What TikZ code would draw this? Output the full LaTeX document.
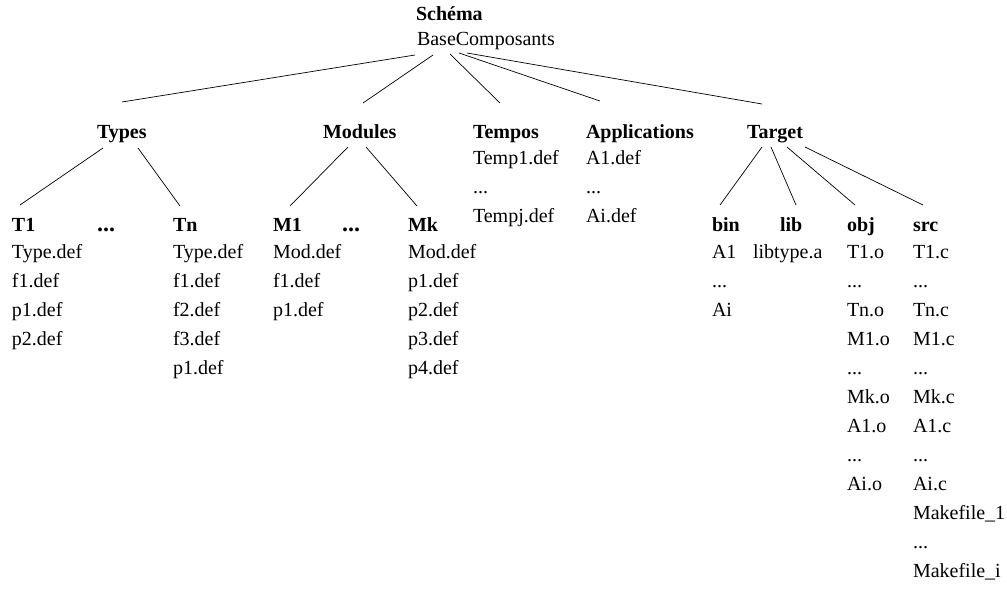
\documentclass[tikz,border=0pt]{standalone}
\usepackage{fontspec}
\setmainfont{Liberation Serif}
% an ellipsis row in a folder listing
\newcommand\threedots{...}
\begin{document}
\begin{tikzpicture}[x=1pt,y=-1pt,
  txt/.style={anchor=base west,inner sep=0pt,outer sep=0pt,font=\fontsize{20}{24}\selectfont},
  hd/.style={txt,font=\fontsize{20}{24}\selectfont\bfseries},
  gap/.style={txt,font=\fontsize{24}{24}\selectfont\bfseries},
  link/.style={draw=black,line width=0.7pt}]
\useasboundingbox (0,0) rectangle (1007,592);

% root
\node[hd]  (schema) at (416,20) {Schéma};
\node[txt] (base)   at (417,45) {BaseComposants};

% second level
\node[hd] (types)   at (97,138)  {Types};
\node[hd] (modules) at (323,138) {Modules};
\node[hd] (tempos)  at (473,138) {Tempos};
\node[hd] (apps)    at (586,138) {Applications};
\node[hd] (target)  at (747,138) {Target};

% Tempos and Applications contents
\foreach \f [count=\i from 0] in {Temp1.def,\threedots,Tempj.def}
  \node[txt] (tempos-\i) at ([shift={(0,{26+29*\i})}]tempos.base west) {\f};
\foreach \f [count=\i from 0] in {A1.def,\threedots,Ai.def}
  \node[txt] (apps-\i) at ([shift={(0,{26+29*\i})}]apps.base west) {\f};

% Types subtree
\node[hd]  (t1)    at (12,231)  {T1};
\node[gap] (tdots) at (97,231)  {\threedots};
\node[hd]  (tn)    at (173,231) {Tn};
\foreach \f [count=\i from 0] in {Type.def,f1.def,p1.def,p2.def}
  \node[txt] (t1-\i) at ([shift={(0,{27+29*\i})}]t1.base west) {\f};
\foreach \f [count=\i from 0] in {Type.def,f1.def,f2.def,f3.def,p1.def}
  \node[txt] (tn-\i) at ([shift={(0,{27+29*\i})}]tn.base west) {\f};

% Modules subtree
\node[hd]  (m1)    at (273,231) {M1};
\node[gap] (mdots) at (342,231) {\threedots};
\node[hd]  (mk)    at (408,231) {Mk};
\foreach \f [count=\i from 0] in {Mod.def,f1.def,p1.def}
  \node[txt] (m1-\i) at ([shift={(0,{27+29*\i})}]m1.base west) {\f};
\foreach \f [count=\i from 0] in {Mod.def,p1.def,p2.def,p3.def,p4.def}
  \node[txt] (mk-\i) at ([shift={(0,{27+29*\i})}]mk.base west) {\f};

% Target subtree
\node[hd] (bin) at (712,231) {bin};
\node[hd] (lib) at (780,231) {lib};
\node[hd] (obj) at (847,231) {obj};
\node[hd] (src) at (913,231) {src};
\foreach \f [count=\i from 0] in {A1,\threedots,Ai}
  \node[txt] (bin-\i) at ([shift={(0,{27+29*\i})}]bin.base west) {\f};
\node[txt] (lib-0) at ([shift={(-27,27)}]lib.base west) {libtype.a};
\foreach \f [count=\i from 0] in {T1.o,\threedots,Tn.o,M1.o,\threedots,Mk.o,A1.o,\threedots,Ai.o}
  \node[txt] (obj-\i) at ([shift={(0,{27+29*\i})}]obj.base west) {\f};
\foreach \f [count=\i from 0] in {T1.c,\threedots,Tn.c,M1.c,\threedots,Mk.c,A1.c,\threedots,Ai.c,Makefile\_1,\threedots,Makefile\_i}
  \node[txt] (src-\i) at ([shift={(0,{27+29*\i})}]src.base west) {\f};

% connectors: root to second level
\draw[link] ([shift={(-2,10)}]base.base west) -- ([shift={(25,-36)}]types.base west);
\draw[link] ([shift={(16,10)}]base.base west) -- ([shift={(40,-35)}]modules.base west);
\draw[link] ([shift={(33,9)}]base.base west)  -- ([shift={(27,-35)}]tempos.base west);
\draw[link] ([shift={(42,8)}]base.base west)  -- ([shift={(14,-37)}]apps.base west);
\draw[link] ([shift={(50,8)}]base.base west)  -- ([shift={(15,-34)}]target.base west);

% connectors: Types and Modules to their children
\draw[link] ([shift={(6,10)}]types.base west)  -- ([shift={(8,-26)}]t1.base west);
\draw[link] ([shift={(41,10)}]types.base west) -- ([shift={(7,-25)}]tn.base west);
\draw[link] ([shift={(25,9)}]modules.base west) -- ([shift={(17,-25)}]m1.base west);
\draw[link] ([shift={(43,9)}]modules.base west) -- ([shift={(9,-25)}]mk.base west);

% connectors: Target to its folders
\draw[link] ([shift={(15,9)}]target.base west) -- ([shift={(8,-26)}]bin.base west);
\draw[link] ([shift={(24,9)}]target.base west) -- ([shift={(16,-26)}]lib.base west);
\draw[link] ([shift={(40,9)}]target.base west) -- ([shift={(8,-26)}]obj.base west);
\draw[link] ([shift={(58,9)}]target.base west) -- ([shift={(10,-26)}]src.base west);
\end{tikzpicture}
\end{document}
